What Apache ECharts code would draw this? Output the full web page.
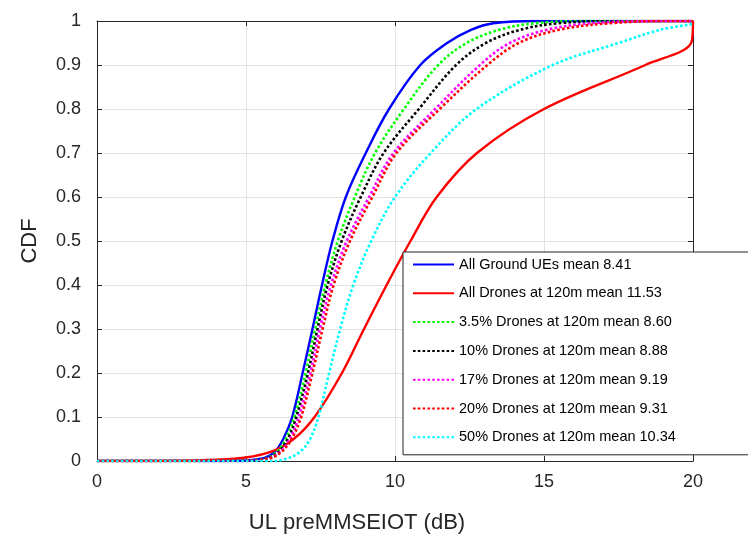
<!DOCTYPE html>
<html>
<head>
<meta charset="utf-8">
<script src="https://cdn.jsdelivr.net/npm/echarts@6/dist/echarts.min.js"></script>
<style>
html,body{margin:0;padding:0;background:#fff;}
#chart{width:748px;height:542px;}
</style>
</head>
<body>
<div id="chart"></div>
<script>
// CDF levels shared by the quantile arrays
var cdfLevels = [0, 0.005, 0.02, 0.05, 0.1, 0.2, 0.3, 0.4, 0.5, 0.6, 0.7, 0.8, 0.9, 0.95, 0.98, 0.995, 1];

// x (dB) at which each curve reaches the CDF level above
var groundX   = [4.3, 5.5, 5.95, 6.25, 6.55, 6.9, 7.23, 7.55, 7.9, 8.35, 9.02, 9.8, 10.85, 11.75, 12.55, 13.3, 14.8];
var drone35X  = [4.5, 5.6, 6.02, 6.33, 6.62, 7.0, 7.32, 7.66, 8.08, 8.65, 9.33, 10.3, 11.45, 12.4, 13.5, 14.7, 16.5];
var drone10X  = [4.6, 5.65, 6.08, 6.4, 6.69, 7.08, 7.4, 7.74, 8.21, 8.85, 9.62, 10.8, 12.05, 13.05, 14.2, 15.5, 17.5];
var drone17X  = [4.7, 5.7, 6.13, 6.47, 6.77, 7.16, 7.48, 7.85, 8.38, 9.13, 9.95, 11.35, 12.85, 13.85, 15.1, 16.6, 18.8];
var drone20X  = [4.8, 5.75, 6.18, 6.53, 6.85, 7.23, 7.57, 7.94, 8.49, 9.24, 10.05, 11.5, 13.1, 14.15, 15.5, 17.2, 19.3];
// 50% curve: levels up to 0.98, then its value at x=20
var drone50X  = [5.9, 6.35, 6.8, 7.15, 7.43, 7.79, 8.16, 8.6, 9.2, 10.0, 11.2, 12.74, 15.3, 17.5, 18.9];
var drone50End = [20, 0.993];
// all drones: levels up to 0.9, then the tail at x=20
var droneAllX = [1.5, 4.6, 5.8, 6.6, 7.3, 8.22, 8.96, 9.72, 10.52, 11.4, 12.75, 15.0, 18.4];
var droneAllTail = [[19.95, 0.952], [20, 1]];

var xTicks = [0, 5, 10, 15, 20];
var yTicks = [0, 0.1, 0.2, 0.3, 0.4, 0.5, 0.6, 0.7, 0.8, 0.9, 1];

var seriesNames = [
  'All Ground UEs mean 8.41',
  'All Drones at 120m mean 11.53',
  '3.5% Drones at 120m mean 8.60',
  '10% Drones at 120m mean 8.88',
  '17% Drones at 120m mean 9.19',
  '20% Drones at 120m mean 9.31',
  '50% Drones at 120m mean 10.34'
];

function build(xs, n) {
  var d = [[0, 0]];
  for (var i = 0; i < (n || xs.length); i++) d.push([xs[i], cdfLevels[i]]);
  return d;
}
var groundData = build(groundX).concat([[20, 1]]);
var d35 = build(drone35X).concat([[20, 1]]);
var d10 = build(drone10X).concat([[20, 1]]);
var d17 = build(drone17X).concat([[20, 1]]);
var d20 = build(drone20X).concat([[20, 1]]);
var d50 = build(drone50X).concat([drone50End]);
var dAll = build(droneAllX).concat(droneAllTail);

var font = 'Liberation Sans, Arial, Helvetica, sans-serif';
var axisCol = '#262626';

function lineSeries(name, data, color, dotted, z) {
  return {
    name: name, type: 'line', data: data, smooth: 0.35,
    symbol: 'none', showSymbol: false, z: z,
    lineStyle: { color: color, width: dotted ? 2.6 : 2.4, type: dotted ? [2.6, 2.2] : 'solid' },
    itemStyle: { color: color }
  };
}

var chart = echarts.init(document.getElementById('chart'), null, { renderer: 'canvas' });
chart.setOption({
  animation: false,
  backgroundColor: '#fff',
  grid: { left: 97, right: 55, top: 21, bottom: 81 },
  legend: {
    orient: 'vertical', left: 403, top: 252,
    padding: [5, 90, 10, 9], itemGap: 13.8,
    itemWidth: 41, itemHeight: 14,
    backgroundColor: '#fff', borderColor: '#262626', borderWidth: 1,
    itemStyle: { opacity: 0 },
    textStyle: { fontFamily: font, fontSize: 14.5, color: '#000' },
    data: seriesNames
  },
  xAxis: [{
    type: 'value', min: 0, max: 20, interval: 5,
    name: 'UL preMMSEIOT (dB)', nameLocation: 'middle', nameGap: 51,
    nameTextStyle: { fontFamily: font, fontSize: 22, color: axisCol, padding: [0, 76, 0, 0] },
    axisLine: { show: true, lineStyle: { color: axisCol, width: 1 } },
    axisTick: { show: true, inside: true, length: 5, lineStyle: { color: axisCol } },
    axisLabel: { fontFamily: font, fontSize: 18, color: axisCol, margin: 12,
      formatter: function (v) { return xTicks.indexOf(v) >= 0 ? String(v) : ''; } },
    splitLine: { show: true, lineStyle: { color: '#e3e3e3', width: 1 } }
  }, {
    type: 'value', min: 0, max: 20, interval: 5, position: 'top',
    axisLine: { show: true, onZero: false, lineStyle: { color: axisCol, width: 1 } },
    axisTick: { show: true, inside: true, length: 5, lineStyle: { color: axisCol } },
    axisLabel: { show: false }, splitLine: { show: false }
  }],
  yAxis: [{
    type: 'value', min: 0, max: 1, interval: 0.1,
    name: 'CDF', nameLocation: 'middle', nameGap: 56,
    nameTextStyle: { fontFamily: font, fontSize: 22, color: axisCol },
    axisLine: { show: true, lineStyle: { color: axisCol, width: 1 } },
    axisTick: { show: true, inside: true, length: 5, lineStyle: { color: axisCol } },
    axisLabel: { fontFamily: font, fontSize: 18, color: axisCol, margin: 16,
      formatter: function (v) {
        var r = Math.round(v * 10) / 10;
        return yTicks.indexOf(r) >= 0 ? String(r) : '';
      } },
    splitLine: { show: true, lineStyle: { color: '#e3e3e3', width: 1 } }
  }, {
    type: 'value', min: 0, max: 1, interval: 0.1, position: 'right',
    axisLine: { show: true, onZero: false, lineStyle: { color: axisCol, width: 1 } },
    axisTick: { show: true, inside: true, length: 5, lineStyle: { color: axisCol } },
    axisLabel: { show: false }, splitLine: { show: false }
  }],
  series: [
    lineSeries(seriesNames[0], groundData, '#0000ff', false, 3),
    lineSeries(seriesNames[1], dAll, '#ff0000', false, 3),
    lineSeries(seriesNames[2], d35, '#00ff00', true, 3),
    lineSeries(seriesNames[3], d10, '#000000', true, 3),
    lineSeries(seriesNames[4], d17, '#ff00ff', true, 3),
    lineSeries(seriesNames[5], d20, '#ff0000', true, 3),
    lineSeries(seriesNames[6], d50, '#00ffff', true, 3)
  ]
});
</script>
</body>
</html>
